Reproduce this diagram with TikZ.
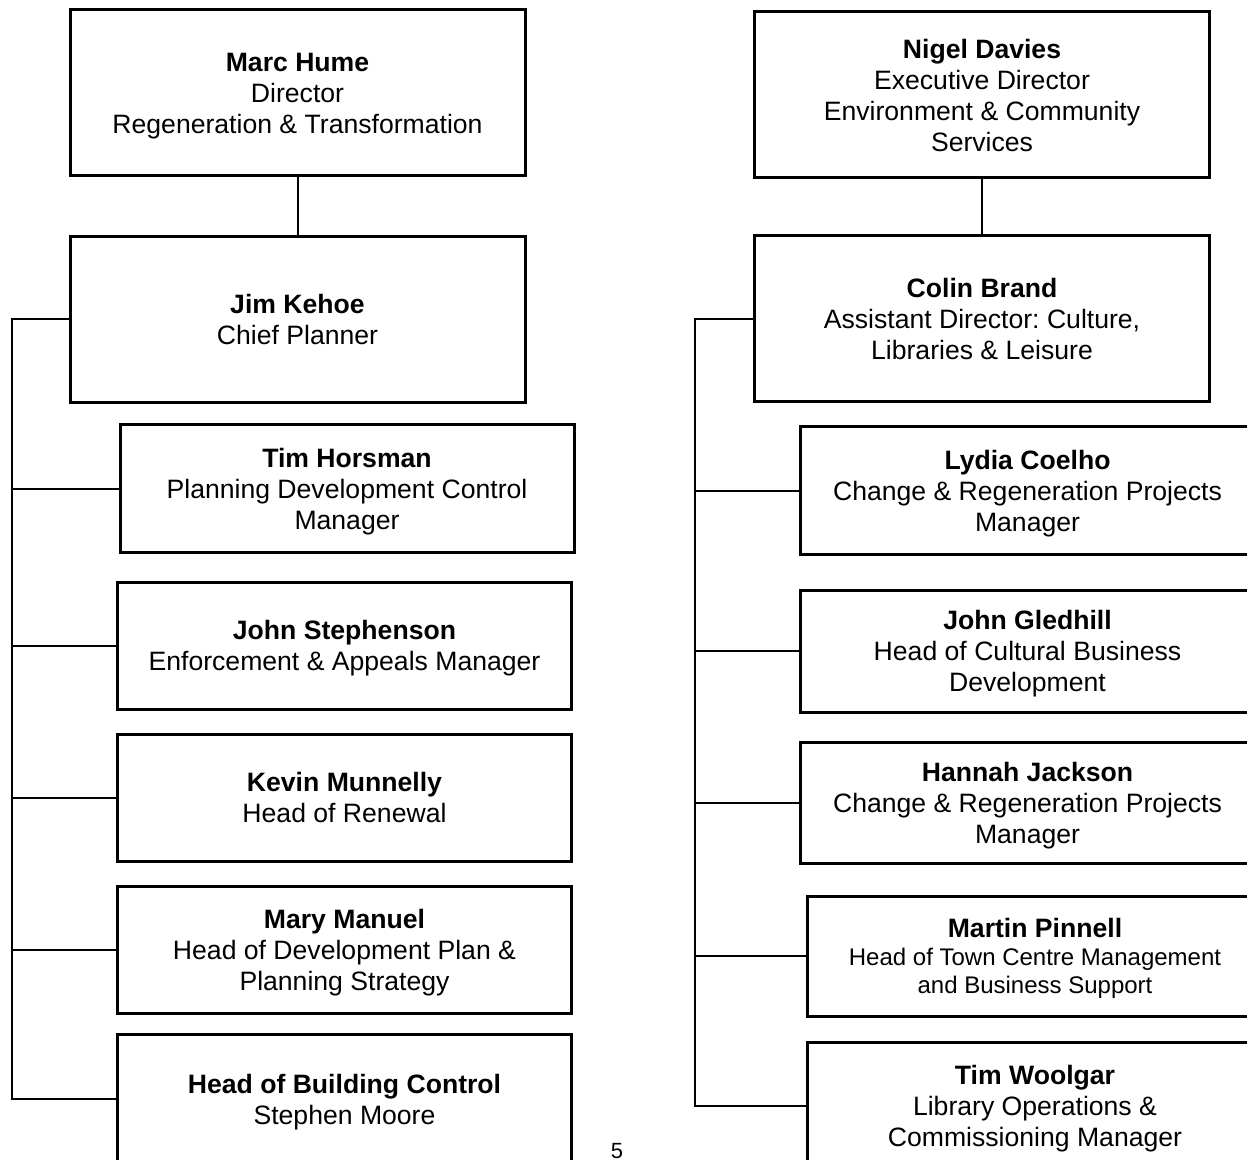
\documentclass[tikz,border=0pt]{standalone}
\usepackage{fontspec}
\setmainfont{Liberation Sans}
\frenchspacing

\begin{document}
\begin{tikzpicture}[x=0.5pt,y=-0.5pt,
    box/.style={draw, line width=1.5pt, align=center, inner sep=0pt, text depth=0pt,
        font=\fontsize{13.3}{15.5}\selectfont},
    bigbox/.style={box, minimum width=227.5pt, minimum height=83pt},
    smallbox/.style={box, minimum width=227pt, minimum height=63.5pt},
    link/.style={line width=1pt}]
    % page frame, boxes run off the right and bottom edges
    \useasboundingbox (0,0) rectangle (1247,1160);
    \clip (0,0) rectangle (1247,1160);
    % left chart
    \node[bigbox] (hume) at (297.5,93) {\textbf{Marc Hume}\\Director\\Regeneration \& Transformation};
    \node[bigbox] (kehoe) at (297.5,319.5) {\textbf{Jim Kehoe}\\Chief Planner};
    \node[smallbox] (horsman) at (347,488.5) {\textbf{Tim Horsman}\\Planning Development Control\\Manager};
    \node[smallbox] (stephenson) at (344.5,645.5) {\textbf{John Stephenson}\\Enforcement \& Appeals Manager};
    \node[smallbox] (munnelly) at (344.5,797.5) {\textbf{Kevin Munnelly}\\Head of Renewal};
    \node[smallbox] (manuel) at (344.5,950) {\textbf{Mary Manuel}\\Head of Development Plan \&\\Planning Strategy};
    \node[smallbox, minimum height=65pt] (bcontrol) at (344.5,1099) {\textbf{Head of Building Control}\\Stephen Moore};
    % right chart
    \node[bigbox] (davies) at (982,95) {\textbf{Nigel Davies}\\Executive Director\\Environment \& Community\\Services};
    \node[bigbox] (brand) at (982,319) {\textbf{Colin Brand}\\Assistant Director: Culture,\\Libraries \& Leisure};
    \node[smallbox, minimum width=227.5pt] (coelho) at (1027.5,490.5) {\textbf{Lydia Coelho}\\Change \& Regeneration Projects\\Manager};
    \node[smallbox, minimum width=227.5pt, minimum height=61pt] (gledhill) at (1027.5,651) {\textbf{John Gledhill}\\Head of Cultural Business\\Development};
    \node[smallbox, minimum width=227.5pt, minimum height=60.5pt] (jackson) at (1027.5,802.5) {\textbf{Hannah Jackson}\\Change \& Regeneration Projects\\Manager};
    \node[smallbox, minimum width=228pt, minimum height=60pt, font=\fontsize{12}{14}\selectfont] (pinnell) at (1035,956)
        {{\fontsize{13.3}{14}\selectfont\textbf{Martin Pinnell}}\\Head of Town Centre Management\\and Business Support};
    \node[smallbox, minimum width=228pt, minimum height=64pt] (woolgar) at (1035,1106) {\textbf{Tim Woolgar}\\Library Operations \&\\Commissioning Manager};
    % page number
    \node[anchor=base, inner sep=0pt, font=\fontsize{11}{13}\selectfont] (pagenum) at (617,1158) {5};
    % connectors
    \coordinate (ltrunk) at (12,0);
    \coordinate (rtrunk) at (695,0);
    \draw[link] (hume.south) -- (kehoe.north);
    \draw[link] (davies.south) -- (brand.north);
    \draw[link] (kehoe.west) -- (kehoe.west -| ltrunk) -- (bcontrol.west -| ltrunk) -- (bcontrol.west);
    \draw[link] (brand.west) -- (brand.west -| rtrunk) -- (woolgar.west -| rtrunk) -- (woolgar.west);
    \foreach \n in {horsman,stephenson,munnelly,manuel}
        \draw[link] (\n.west -| ltrunk) -- (\n.west);
    \foreach \n in {coelho,gledhill,jackson,pinnell}
        \draw[link] (\n.west -| rtrunk) -- (\n.west);
\end{tikzpicture}
\end{document}
